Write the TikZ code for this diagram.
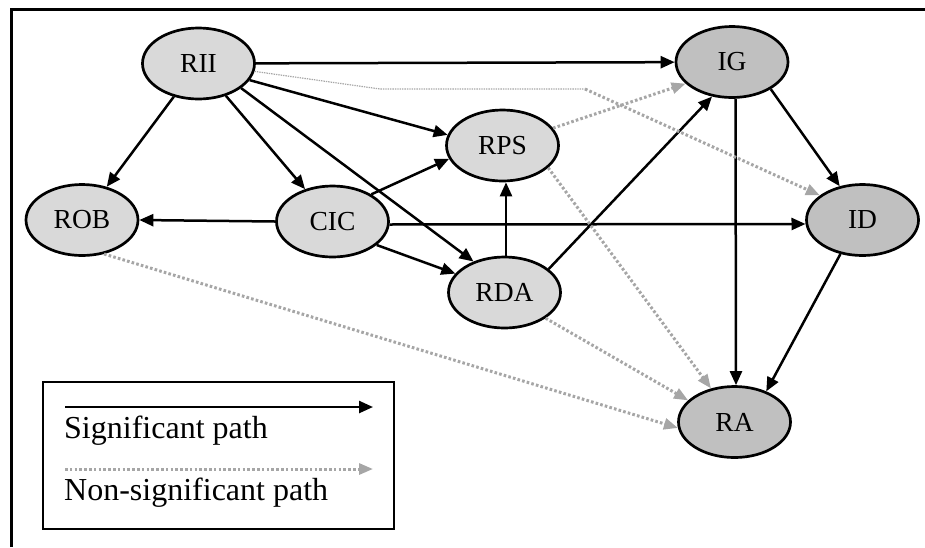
\documentclass[tikz,border=0pt]{standalone}
\usepackage{fontspec}
\setmainfont{Liberation Serif}
\usetikzlibrary{shapes.geometric,arrows.meta}
\definecolor{nodelight}{HTML}{D9D9D9}
\definecolor{nodedark}{HTML}{C0C0C0}
\definecolor{nsgray}{HTML}{A6A6A6}
\begin{document}
\begin{tikzpicture}[x=1pt,y=-1pt,
  var/.style={ellipse, draw, line width=2.7pt, minimum width=112pt,
    minimum height=71pt, inner sep=0pt, font=\fontsize{27.5}{31}\selectfont},
  exo/.style={var, fill=nodelight},
  endo/.style={var, fill=nodedark},
  sig/.style={line width=2.5pt, -{Triangle[length=14pt,width=12pt]}},
  nonsig/.style={line width=3pt, nsgray, dash pattern=on 2.6pt off 2.2pt,
    -{Triangle[length=14pt,width=11pt]}},
  nsthin/.style={line width=1.2pt, nsgray, dash pattern=on 1.4pt off 1pt},
  legtext/.style={inner sep=0pt, anchor=base west, font=\fontsize{32}{36}\selectfont},
  frame/.style={line width=2.6pt, line join=miter}
]
\useasboundingbox (0,0) rectangle (925,547);

% outer frame
\draw[frame] (11.5,547) -- (11.5,9.5) -- (925,9.5);

% latent variables
\node[exo]  (RII) at (198.5,63.5) {RII};
\node[exo]  (ROB) at (82,220)     {ROB};
\node[exo]  (CIC) at (332.5,221.5){CIC};
\node[exo]  (RPS) at (502.5,145.5){RPS};
\node[exo]  (RDA) at (504.5,292.5){RDA};
\node[endo] (IG)  at (732,62)     {IG};
\node[endo] (ID)  at (862.5,220)  {ID};
\node[endo] (RA)  at (734.5,422)  {RA};

% significant paths
\draw[sig] (RII) -- (IG);
\draw[sig] (RII) -- (ROB);
\draw[sig] (RII) -- (CIC);
\draw[sig] (RII.-18) -- (RPS.169);
\draw[sig] (RII.-30) -- (RDA.135);
\draw[sig] (CIC.west) -- (ROB.east);
\draw[sig] (CIC.35) -- (RPS.194);
\draw[sig] (CIC.-3) -- (ID.184);
\draw[sig] (CIC.-28) -- (RDA.159);
\draw[sig] ([xshift=1.5pt]RDA.north) -- ([xshift=3.5pt]RPS.south);
\draw[sig] (RDA.28) -- (IG.-120);
\draw[sig] (IG.-35) -- (ID.124);
\draw[sig] ([xshift=3.5pt]IG.south) -- ([xshift=1.5pt]RA.north);
\draw[sig] (ID.-123) -- (RA.44);

% non-significant paths
\coordinate (b1) at (380,89);
\coordinate (b2) at (585,89);
\draw[nsthin] (RII.-8) -- (b1) -- (b2);
\draw[nonsig] (b2) -- (ID.150);
\draw[nonsig] (RPS.19) -- (IG.-155);
\draw[nonsig] (RPS.-26) -- (RA.125);
\draw[nonsig] (RDA.-32) -- (RA.155);
\draw[nonsig] (ROB.-57) -- (RA.186);

% legend
\draw[line width=2.8pt] (43,382) rectangle (394,529);
\coordinate (s1) at (65,407);
\coordinate (s2) at (373,407);
\draw[sig] (s1) -- (s2);
\node[legtext] (t1) at (64,438) {Significant path};
\coordinate (n1) at (65,469);
\coordinate (n2) at (373,469);
\draw[nonsig] (n1) -- (n2);
\node[legtext] (t2) at (64,500) {Non-significant path};
\end{tikzpicture}
\end{document}
